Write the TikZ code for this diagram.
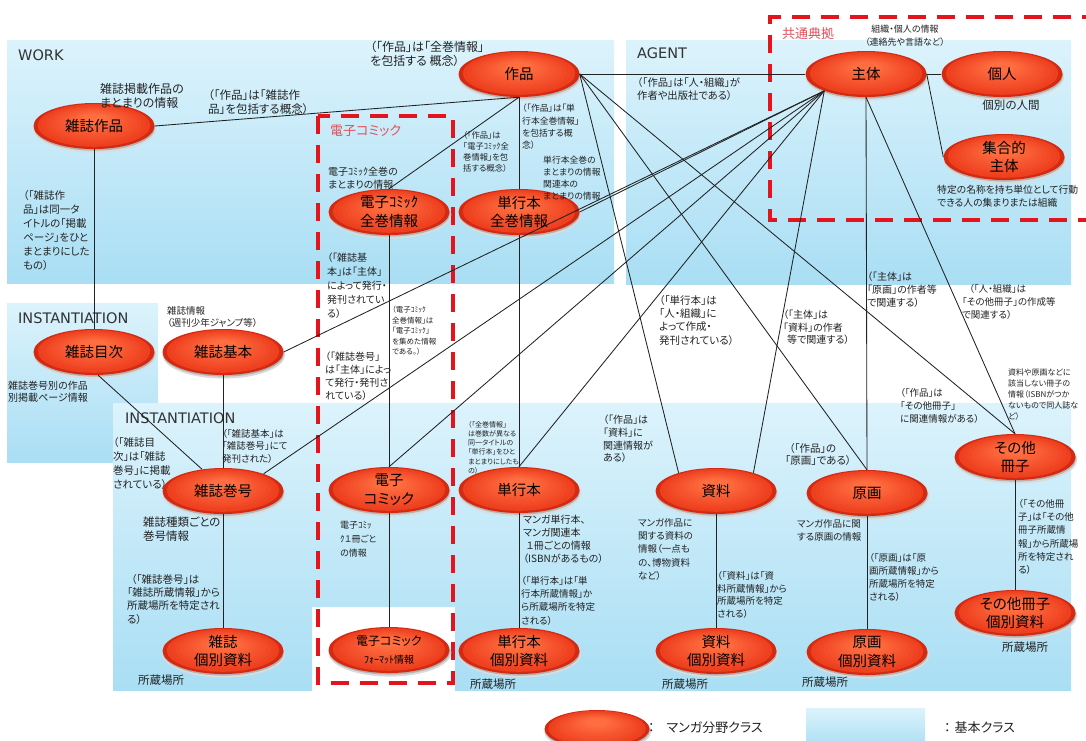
\documentclass[tikz,border=0pt]{standalone}
\usepackage{fontspec}
\setmainfont{Noto Sans CJK JP}[RawFeature={+palt}]
\newfontfamily\latinfont{DejaVu Sans}
\usetikzlibrary{shapes.geometric,calc}
\newcommand\fsz[2]{\fontsize{#1}{#2}\selectfont}
\definecolor{panelTop}{HTML}{DCF3FC}
\definecolor{panelBot}{HTML}{A9DEF4}
\definecolor{ellHi}{HTML}{FF6E40}
\definecolor{ellOut}{HTML}{EC3A1C}
\definecolor{ellRim}{HTML}{D42A12}
\definecolor{frameRed}{HTML}{E3141B}
\definecolor{tagRed}{HTML}{E0505A}
\definecolor{ink}{HTML}{222222}
\tikzset{
  mangaell/.style={ellipse, inner sep=0pt, fill=ellRim, draw=none},
  mangalbl/.style={text=black, font=\fsz{14.5}{18.5}, align=center, inner sep=0pt},
  panel/.style={top color=panelTop, bottom color=panelBot, draw=none},
  link/.style={draw=ink, line width=0.85pt},
  frame/.style={draw=frameRed, line width=4.5pt, dash pattern=on 18pt off 11pt},
  note/.style={text=ink, inner sep=0pt, anchor=north west, align=left},
  hdr/.style={text=black!80, inner sep=0pt, anchor=north west, font=\latinfont\fsz{14.5}{17}},
  tag/.style={text=tagRed, inner sep=0pt, anchor=north west, font=\fsz{13}{15}},
}
% glowing ellipse with a soft shadow: name, position, width, height
\newcommand\mangaellipse[4]{%
  \fill[black!14] (#2) ++(0.8,2.6) ellipse ({#3/2+1} and {#4/2+1});
  \fill[black!30] (#2) ++(0.5,1.6) ellipse ({#3/2} and {#4/2});
  \node[mangaell, minimum width=#3pt, minimum height=#4pt] (#1) at (#2) {};
  \foreach \k in {1,...,11}{%
    \pgfmathsetmacro\rx{#3/2*(1-\k*0.07)}%
    \pgfmathsetmacro\ry{#4/2*(1-\k*0.07)}%
    \pgfmathsetmacro\pc{\k*9}%
    \fill[ellHi!\pc!ellOut] ($(#1.center)+(0,{-\k*0.6})$) ellipse ({\rx} and {\ry});
  }}
\newcommand\mangaclass[2]{\mangaellipse{#1}{#2}{121}{46}}
% caption of a class ellipse: name, text
\newcommand\mangacap[2]{\node[mangalbl] (#1-txt) at (#1.center) {#2};}

\begin{document}
\begin{tikzpicture}[x=1pt,y=-1pt]
\useasboundingbox (0,0) rectangle (1086,740);
\clip (0,0) rectangle (1086,740);

% light blue class areas
\shade[panel] (7,40) rectangle (614,283);
\shade[panel] (626,40) rectangle (1071,284);
\shade[panel] (7,303) rectangle (158,462);
\shade[panel] (113,403) -- (1071,403) -- (1071,691) -- (455,691) -- (455,607)
  -- (312,607) -- (312,691) -- (113,691) -- cycle;
\shade[panel] (806,708) rectangle (925,748);

% area headings
\node[hdr] (h-work) at (18,50) {WORK};
\node[hdr] (h-agent) at (637,48) {AGENT};
\node[hdr] (h-inst1) at (18,313) {INSTANTIATION};
\node[hdr] (h-inst2) at (125,413) {INSTANTIATION};

% red dashed groups
\draw[frame] (318,116) rectangle (453,683);
\draw[frame] (1100,17) -- (770,17) -- (770,220) -- (1100,220);
\node[tag] (g-denshi) at (330,125) {電子コミック};
\node[tag] (g-kyotsu) at (782,27) {共通典拠};

% classes
\mangaclass{sak}{519,74}
\mangaclass{zsak}{94,126}
\mangaclass{sht}{866,74}
\mangaclass{kojin}{1002,74}
\mangaclass{shugo}{1004,157}
\mangaclass{dzk}{389,212}
\mangaclass{tzk}{519,212}
\mangaclass{mokuji}{94,352}
\mangaclass{kihon}{223,352}
\mangaclass{kango}{223,491}
\mangaclass{denshi}{389,490}
\mangaclass{tko}{519,490}
\mangaclass{shiryo}{716,491}
\mangaclass{genga}{867,493}
\mangaclass{sonota}{1015,457}
\mangaclass{zkb}{223,651}
\mangaclass{fmt}{389,650}
\mangaclass{tkb}{519,651}
\mangaclass{skb}{716,651}
\mangaclass{gkb}{867,652}
\mangaclass{okb}{1015,613}
\mangaellipse{leg-ell}{597,729}{105}{38}

% relations
\draw[link] (zsak.east) -- (sak.south);
\draw[link] (sak.south) -- (dzk.north);
\draw[link] (sak.south) -- (tzk.north);
\draw[link] (sak.east) -- (sht.west);
\draw[link] (sak.east) -- (shiryo.154);
\draw[link] (sak.east) -- (genga.north);
\draw[link] (sak.east) -- (sonota.north);
\foreach \t in {tzk.east, kihon.east, kango.23, denshi.north, tko.north, shiryo.26}
  \draw[link] (sht.202) -- (\t);
\draw[link] (sht.south) -- (genga.north);
\draw[link] (sht.south) -- (sonota.north);
\draw[link] (sht.east) -- (kojin.west);
\draw[link] (sht.east) -- (shugo.west);
\draw[link] (dzk.south) -- (denshi.north);
\draw[link] (denshi.south) -- (fmt.north);
\draw[link] (tzk.south) -- (tko.north);
\draw[link] (tko.south) -- (tkb.north);
\draw[link] (shiryo.south) -- (skb.north);
\draw[link] (genga.south) -- (gkb.north);
\draw[link] (sonota.south) -- (okb.north);
\draw[link] (kango.south) -- (zkb.north);
\draw[link] (zsak.south) -- (mokuji.north);
\draw[link] (mokuji.-80) -- (kango.134);
\draw[link] (kihon.south) -- (kango.north);

% class captions
\mangacap{sak}{作品}
\mangacap{zsak}{雑誌作品}
\mangacap{sht}{主体}
\mangacap{kojin}{個人}
\mangacap{shugo}{集合的\\主体}
\mangacap{dzk}{電子ｺﾐｯｸ\\全巻情報}
\mangacap{tzk}{単行本\\全巻情報}
\mangacap{mokuji}{雑誌目次}
\mangacap{kihon}{雑誌基本}
\mangacap{kango}{雑誌巻号}
\mangacap{denshi}{電子\\コミック}
\mangacap{tko}{単行本}
\mangacap{shiryo}{資料}
\mangacap{genga}{原画}
\mangacap{sonota}{その他\\冊子}
\mangacap{zkb}{雑誌\\個別資料}
\mangacap{fmt}{{\fsz{12}{14}電子コミック}\\{\fsz{10}{14}ﾌｫｰﾏｯﾄ情報}}
\mangacap{tkb}{単行本\\個別資料}
\mangacap{skb}{資料\\個別資料}
\mangacap{gkb}{原画\\個別資料}
\mangacap{okb}{その他冊子\\個別資料}

% notes: WORK
\node[note, font=\fsz{12}{14}] (n-zsak) at (100,83) {雑誌掲載作品の\\まとまりの情報};
\node[note, font=\fsz{11.5}{14}] (n-sak-zsak) at (208,89) {（「作品」は「雑誌作\\品」を包括する概念）};
\node[note, font=\fsz{12}{14}] (n-sak-all) at (370,41) {（「作品」は「全巻情報」\\を包括する 概念）};
\node[note, font=\fsz{8.3}{11}] (n-sak-dzk) at (463,131) {（「作品」は\\「電子ｺﾐｯｸ全\\巻情報」を包\\括する概念）};
\node[note, font=\fsz{8.8}{12.3}] (n-sak-tzk) at (522,104) {（「作品」は「単\\行本全巻情報」\\を包括する概\\念）};
\node[note, font=\fsz{8.8}{12}] (n-tzk) at (543,156) {単行本全巻の\\まとまりの情報\\関連本の\\まとまりの情報};
\node[note, font=\fsz{10}{13}] (n-dzk) at (328,167) {電子ｺﾐｯｸ全巻の\\まとまりの情報};
\node[note, font=\fsz{10.5}{14}] (n-zsak-mok) at (23,190) {（「雑誌作\\品」は同一タ\\イトルの「掲載\\ページ」をひと\\まとまりにした\\もの）};

% notes: AGENT
\node[note, font=\fsz{10.3}{13}] (n-sak-sht) at (637,77) {（「作品」は「人・組織」が\\作者や出版社である）};
\node[note, font=\fsz{9}{13}, align=center, anchor=north] (n-sht) at (905,25) {組織・個人の情報\\（連絡先や言語など）};
\node[note, font=\fsz{11.5}{14}, anchor=north] (n-kojin) at (1011,100) {個別の人間};
\node[note, font=\fsz{9.8}{13}] (n-shugo) at (937,185) {特定の名称を持ち単位として行動\\できる人の集まりまたは組織};

% notes: middle band
\node[note, font=\fsz{10}{14}] (n-kihon-sht) at (327,253) {（「雑誌基\\本」は「主体」\\によって発行・\\発刊されてい\\る）};
\node[note, font=\fsz{7.5}{10.5}] (n-dzk-den) at (392,306) {（電子ｺﾐｯｸ\\全巻情報」は\\「電子ｺﾐｯｸ」\\を集めた情報\\である。）};
\node[note, font=\fsz{10}{13}] (n-kango-sht) at (325,352) {（「雑誌巻号」\\は「主体」によっ\\て発行・発刊さ\\れている）};
\node[note, font=\fsz{10.5}{13.3}] (n-tko-sht) at (659,295) {（「単行本」は\\「人・組織」に\\よって作成・\\発刊されている）};
\node[note, font=\fsz{10}{12.5}] (n-sht-shiryo) at (783,310) {（「主体」は\\「資料」の作者\\\hspace*{4pt}等で関連する）};
\node[note, font=\fsz{10}{13}] (n-sht-genga) at (867,272) {（「主体」は\\「原画」の作者等\\で関連する）};
\node[note, font=\fsz{9.5}{13}] (n-sht-sonota) at (962,284) {\hspace*{7pt}（「人・組織」は\\「その他冊子」の作成等\\で関連する）};
\node[note, font=\fsz{9.5}{13}] (n-sak-sonota) at (900,388) {（「作品」は\\「その他冊子」\\に関連情報がある）};
\node[note, font=\fsz{8}{11}] (n-sonota) at (1008,369) {資料や原画などに\\該当しない冊子の\\情報（ISBNがつか\\ないもので同人誌な\\ど）};

% notes: INSTANTIATION
\node[note, font=\fsz{9.5}{12}] (n-kihon) at (167,306) {雑誌情報\\（週刊少年ジャンプ等）};
\node[note, font=\fsz{10}{12}] (n-mokuji) at (8,381) {雑誌巻号別の作品\\別掲載ページ情報};
\node[note, font=\fsz{10.5}{14}] (n-mok-kango) at (113,437) {（「雑誌目\\次」は「雑誌\\巻号」に掲載\\されている）};
\node[note, font=\fsz{9.5}{12.5}] (n-kihon-kango) at (222,429) {（「雑誌基本」は\\「雑誌巻号」にて\\発刊された）};
\node[note, font=\fsz{11.5}{14}] (n-kango) at (143,517) {雑誌種類ごとの\\巻号情報};
\node[note, font=\fsz{10.5}{13.3}] (n-kango-zkb) at (127,574) {\hspace*{4pt}（「雑誌巻号」は\\「雑誌所蔵情報」から\\所蔵場所を特定され\\る）};
\node[note, font=\fsz{11.5}{14}] (n-zkb) at (138,675) {所蔵場所};
\node[note, font=\fsz{9}{14}] (n-denshi) at (340,521) {電子ｺﾐｯ\\ｸ１冊ごと\\の情報};
\node[note, font=\fsz{7}{9.2}] (n-tzk-tko) at (468,421) {（「全巻情報」\\は巻数が異なる\\同一タイトルの\\「単行本」をひと\\まとまりにしたも\\の）};
\node[note, font=\fsz{10}{12.7}] (n-sak-shiryo) at (603,415) {（「作品」は\\「資料」に\\関連情報が\\ある）};
\node[note, font=\fsz{10}{12.8}] (n-tko) at (523,515) {マンガ単行本、\\マンガ関連本\\\hspace*{3pt}１冊ごとの情報\\（ISBNがあるもの）};
\node[note, font=\fsz{9.5}{13.3}] (n-tko-tkb) at (521,576) {（「単行本」は「単\\行本所蔵情報」か\\ら所蔵場所を特定\\される）};
\node[note, font=\fsz{11.5}{14}] (n-tkb) at (470,679) {所蔵場所};
\node[note, font=\fsz{9.5}{13.3}] (n-shiryo) at (638,518) {マンガ作品に\\関する資料の\\情報（一点も\\の、博物資料\\など）};
\node[note, font=\fsz{9.5}{12.7}] (n-shiryo-skb) at (717,571) {（「資料」は「資\\料所蔵情報」から\\所蔵場所を特定\\される）};
\node[note, font=\fsz{11.5}{14}] (n-skb) at (662,679) {所蔵場所};
\node[note, font=\fsz{9.5}{13.5}] (n-genga) at (797,519) {マンガ作品に関\\する原画の情報};
\node[note, font=\fsz{10.5}{12.5}] (n-sak-genga) at (785,443) {\hspace*{4pt}（「作品」の\\「原画」である）};
\node[note, font=\fsz{9.5}{13}] (n-genga-gkb) at (869,553) {（「原画」は「原\\画所蔵情報」から\\所蔵場所を特定\\される）};
\node[note, font=\fsz{11.5}{14}] (n-gkb) at (802,677) {所蔵場所};
\node[note, font=\fsz{9.5}{13.3}] (n-sonota-okb) at (1018,499) {（「その他冊\\子」は「その他\\冊子所蔵情\\報」から所蔵場\\所を特定され\\る）};
\node[note, font=\fsz{11.5}{14}] (n-okb) at (1002,642) {所蔵場所};

% legend
\node[note, font=\fsz{13}{15}, anchor=west] (leg-manga) at (648,728) {：\hspace{12pt}マンガ分野クラス};
\node[note, font=\fsz{13}{15}, anchor=west] (leg-base) at (944,728) {：\hspace{4pt}基本クラス};
\end{tikzpicture}
\end{document}
